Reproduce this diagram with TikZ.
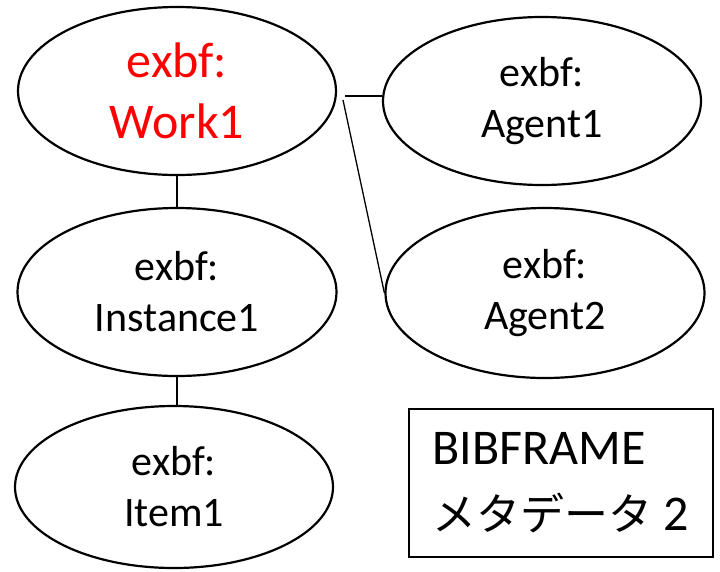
\documentclass[tikz,border=0pt]{standalone}
\usepackage{fontspec}
\setmainfont{Carlito}
\newfontfamily\cjk{Noto Sans CJK JP}
\usetikzlibrary{shapes.geometric}
\tikzset{
  entity/.style={ellipse, draw, line width=2.2pt, inner sep=0pt,
    minimum width=320pt, minimum height=168pt, align=center,
    font=\fontsize{42}{51}\selectfont},
  link/.style={line width=1.3pt},
  titlebox/.style={rectangle, draw, line width=2pt, minimum width=304pt,
    minimum height=148pt, inner sep=0pt, align=left,
    font=\fontsize{50}{66}\selectfont}
}
\begin{document}
\begin{tikzpicture}[x=1pt, y=-1pt]
  \useasboundingbox (0,0) rectangle (720,571);
  \node[entity, minimum width=318pt, minimum height=168pt, text=red,
        font=\fontsize{50}{61}\selectfont] (work) at (177,91) {exbf:\\Work1};
  \node[entity, minimum width=318pt] (agent1) at (542,101) {exbf:\\Agent1};
  \node[entity, minimum width=319pt] (inst) at (177,292) {exbf:\\Instance1};
  \node[entity, minimum width=319pt, minimum height=170pt] (agent2) at (545,293) {exbf:\\Agent2};
  \node[entity, minimum width=318pt, minimum height=162pt] (item) at (174,487) {exbf:\\Item1};
  \node[titlebox] (title) at (561,483) {BIBFRAME\\{\cjk\fontsize{44}{66}\selectfont メタデータ} 2};

  \coordinate (h) at (345,96);
  \coordinate (d) at (343,100);
  \draw[link] (work.south) -- (inst.north);
  \draw[link] (inst.south) -- (inst.south |- item.north);
  \draw[link] (h) -- (h -| agent1.west);
  \draw[link] (d) -- (agent2.west);
\end{tikzpicture}
\end{document}
